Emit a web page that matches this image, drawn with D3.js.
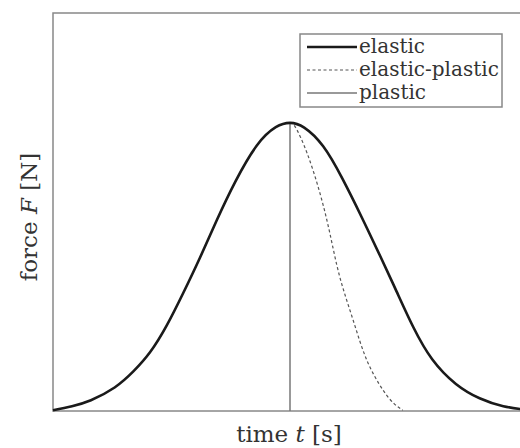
<!DOCTYPE html>
<html>
<head>
<meta charset="utf-8">
<script src="https://cdn.jsdelivr.net/npm/d3@7"></script>
<style>
  body { margin: 0; background: #fff; }
</style>
</head>
<body>
<div id="chart"></div>
<script>
// readings: time in arbitrary units (0..10), force as a fraction of the frame height
const elasticT = [0, 0.4, 0.8, 1.3, 1.7, 2.05, 2.4, 2.75, 3.1, 3.45, 3.85, 4.3, 4.7, 5.0,
  5.3, 5.7, 6.1, 6.5, 6.9, 7.25, 7.6, 8.0, 8.5, 9.0, 9.5, 10];
const elasticF = [0.002, 0.012, 0.027, 0.059, 0.1, 0.148, 0.215, 0.297, 0.385, 0.478, 0.577, 0.667, 0.713, 0.724,
  0.712, 0.665, 0.585, 0.49, 0.39, 0.3, 0.211, 0.13, 0.068, 0.032, 0.012, 0.003];

const epT = [5.0, 5.11, 5.36, 5.63, 5.84, 6.05, 6.33, 6.62, 6.96, 7.2, 7.38];
const epF = [0.724, 0.714, 0.648, 0.548, 0.447, 0.337, 0.229, 0.128, 0.053, 0.018, 0.002];

const plasticT = [5.0, 5.0];
const plasticF = [0, 0.724];

const legendLabels = ['elastic', 'elastic-plastic', 'plastic'];

const W = 520, H = 448;
const FONT = '"DejaVu Serif", "Liberation Serif", serif';
const x = d3.scaleLinear().domain([0, 10]).range([53, 527]);
const y = d3.scaleLinear().domain([0, 1]).range([411, 13]);

const svg = d3.select('#chart').append('svg')
  .attr('width', W)
  .attr('height', H);

const zip = (a, b) => a.map((v, i) => [v, b[i]]);
const smooth = d3.line().x(d => x(d[0])).y(d => y(d[1])).curve(d3.curveNatural);

// frame
svg.append('rect')
  .attr('x', x(0)).attr('y', y(1))
  .attr('width', x(10) - x(0)).attr('height', y(0) - y(1))
  .attr('fill', 'none')
  .attr('stroke', '#888')
  .attr('stroke-width', 1.5);

svg.append('path')
  .attr('d', d3.line().x(d => x(d[0])).y(d => y(d[1]))(zip(plasticT, plasticF)))
  .attr('fill', 'none')
  .attr('stroke', '#777')
  .attr('stroke-width', 1.5);

svg.append('path')
  .attr('d', smooth(zip(epT, epF)))
  .attr('fill', 'none')
  .attr('stroke', '#555')
  .attr('stroke-width', 1.2)
  .attr('stroke-dasharray', '3,2.5');

svg.append('path')
  .attr('d', smooth(zip(elasticT, elasticF)))
  .attr('fill', 'none')
  .attr('stroke', '#1a1a1a')
  .attr('stroke-width', 2.6);

// legend
const lg = svg.append('g');
lg.append('rect')
  .attr('x', 300).attr('y', 34)
  .attr('width', 202).attr('height', 73)
  .attr('fill', '#fff')
  .attr('stroke', '#888')
  .attr('stroke-width', 1.5);

const styles = [
  { stroke: '#1a1a1a', w: 2.6, dash: null },
  { stroke: '#555', w: 1.2, dash: '3,2.5' },
  { stroke: '#777', w: 1.5, dash: null }
];
legendLabels.forEach((lab, i) => {
  const cy = 47 + i * 23;
  lg.append('line')
    .attr('x1', 307).attr('x2', 357)
    .attr('y1', cy).attr('y2', cy)
    .attr('stroke', styles[i].stroke)
    .attr('stroke-width', styles[i].w)
    .attr('stroke-dasharray', styles[i].dash);
  lg.append('text')
    .attr('x', 359).attr('y', cy + 6)
    .attr('font-family', FONT)
    .attr('fill', '#333')
    .style('font-size', '20px')
    .text(lab);
});

// axis titles
const xt = svg.append('text')
  .attr('x', 289).attr('y', 442)
  .attr('text-anchor', 'middle')
  .attr('font-family', FONT)
  .attr('fill', '#333')
  .style('font-size', '23px');
xt.append('tspan').text('time ');
xt.append('tspan').style('font-style', 'italic').text('t');
xt.append('tspan').text(' [s]');

const yt = svg.append('text')
  .attr('transform', 'translate(37,217) rotate(-90)')
  .attr('text-anchor', 'middle')
  .attr('font-family', FONT)
  .attr('fill', '#333')
  .style('font-size', '23px');
yt.append('tspan').text('force ');
yt.append('tspan').style('font-style', 'italic').text('F');
yt.append('tspan').text(' [N]');
</script>
</body>
</html>
